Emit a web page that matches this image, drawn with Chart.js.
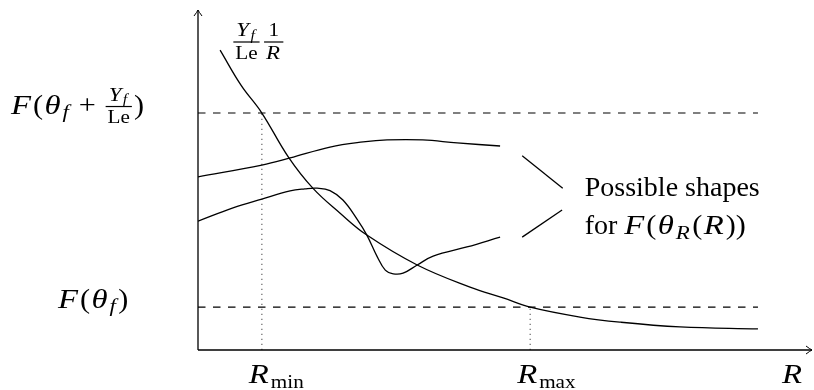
<!DOCTYPE html>
<html lang="en">
<head>
<meta charset="UTF-8">
<title>Possible shapes for F(theta_R(R))</title>
<script src="https://cdn.jsdelivr.net/npm/chart.js"></script>
<style>
  body { margin: 0; background: #ffffff; }
  #wrap { width: 814px; height: 390px; }
</style>
</head>
<body>
<div id="wrap"><canvas id="shapes"></canvas></div>
<script>
// both axes run 0..10 in arbitrary units
const rMin = 1.04, rMax = 5.41, rEnd = 9.12;
const fHigh = 6.97, fLow = 1.26;

// Yf/(Le R) curve
const hypX = [0.36, 0.70, 1.04, 1.47, 1.87, 2.31, 2.75, 3.57, 4.43, 4.97, 5.41, 6.22, 6.87, 7.85, 9.12];
const hypY = [8.82, 7.79, 6.97, 5.68, 4.76, 4.03, 3.38, 2.50, 1.85, 1.53, 1.26, 0.97, 0.82, 0.68, 0.62];

// flat shape
const flatX = [0, 1.04, 1.50, 2.15, 2.69, 3.08, 3.66, 4.22, 4.92];
const flatY = [5.09, 5.44, 5.65, 5.97, 6.12, 6.18, 6.18, 6.09, 6.00];

// shape with a dip
const dipX = [0, 0.57, 1.04, 1.50, 1.74, 1.94, 2.15, 2.36, 2.59, 2.75, 2.92, 3.05, 3.18, 3.34, 3.57, 3.83, 4.38, 4.92];
const dipY = [3.79, 4.18, 4.44, 4.68, 4.74, 4.76, 4.69, 4.41, 3.85, 3.38, 2.74, 2.35, 2.24, 2.26, 2.50, 2.76, 3.03, 3.32];

// little strokes pointing at the note
const pointerAX = [5.28, 5.94], pointerAY = [5.71, 4.76];
const pointerBX = [5.28, 5.93], pointerBY = [3.32, 4.12];

// text pieces: I = italic, U = upright, S = subscript, Fr = fraction, T = plain text
const I = t => ({ t, it: true, m: true });
const U = t => ({ t, m: true });
const S = (t, it) => ({ t, it, sub: true, m: true });
const Fr = (n, d) => ({ n, d });
const T = t => ({ t });

const fTickValues = [fHigh, fLow];
const fTickLabels = [
  [I('F'), U('('), I('θ'), S('f', true), U(' + '), Fr([I('Y'), S('f', true)], [U('Le')]), U(')')],
  [I('F'), U('('), I('θ'), S('f', true), U(')')]
];
const rTickValues = [rMin, rMax, 10];
const rTickLabels = [[I('R'), S('min')], [I('R'), S('max')], [I('R')]];
const curveLabel = [Fr([I('Y'), S('f', true)], [U('Le')]), Fr([U('1')], [I('R')])];
const noteLines = [
  [T('Possible shapes')],
  [T('for '), I('F'), U('('), I('θ'), S('R', true), U('('), I('R'), U('))')]
];

const pts = (xs, ys) => xs.map((x, i) => ({ x, y: ys[i] }));

const FONT = '"Liberation Serif", "DejaVu Serif", serif';
const SIZE = 28;

function fontOf(p, size) {
  return (p.it ? 'italic ' : '') + size + 'px ' + FONT;
}

// math in the original is set wider than Times, so stretch it a bit
function stretchOf(p) {
  if (!p.m) return 1;
  return p.it ? 1.17 : 1.08;
}

function advance(ctx, p, size) {
  let w = ctx.measureText(p.t).width * stretchOf(p);
  if (p.it) w += size * (p.sub ? 0.12 : 0.07);
  if (/[()]/.test(p.t)) w += size * 0.05 * p.t.replace(/[^()]/g, '').length;
  return w;
}

function richWidth(ctx, parts, size) {
  let w = 0;
  parts.forEach(p => {
    if (p.n) {
      w += Math.max(richWidth(ctx, p.n, size * 0.7), richWidth(ctx, p.d, size * 0.7)) + size * 0.3;
      return;
    }
    const s = p.sub ? size * 0.7 : size;
    ctx.font = fontOf(p, s);
    w += advance(ctx, p, s);
  });
  return w;
}

function drawRich(ctx, parts, x, base, size) {
  parts.forEach(p => {
    if (p.n) {
      const fs = size * 0.7;
      const wn = richWidth(ctx, p.n, fs), wd = richWidth(ctx, p.d, fs);
      const w = Math.max(wn, wd) + size * 0.3;
      const axis = base - size * 0.25;
      ctx.fillRect(x + size * 0.08, axis - 0.6, w - size * 0.16, 1.2);
      drawRich(ctx, p.n, x + (w - wn) / 2, axis - size * 0.2, fs);
      drawRich(ctx, p.d, x + (w - wd) / 2, axis + size * 0.6, fs);
      x += w;
      return;
    }
    const s = p.sub ? size * 0.7 : size;
    ctx.font = fontOf(p, s);
    ctx.save();
    ctx.translate(x, p.sub ? base + size * 0.17 : base);
    ctx.scale(stretchOf(p), 1);
    ctx.fillText(p.t, 0, 0);
    ctx.restore();
    x += advance(ctx, p, s);
  });
  return x;
}

function arrowHead(ctx, x, y, dx, dy) {
  // latex style barbs
  const px = -dy, py = dx;
  ctx.beginPath();
  ctx.moveTo(x - dx * 6 + px * 4, y - dy * 6 + py * 4);
  ctx.quadraticCurveTo(x - dx * 2 + px * 1, y - dy * 2 + py * 1, x, y);
  ctx.quadraticCurveTo(x - dx * 2 - px * 1, y - dy * 2 - py * 1, x - dx * 6 - px * 4, y - dy * 6 - py * 4);
  ctx.stroke();
}

const decorations = {
  id: 'decorations',
  afterDraw(chart) {
    const { ctx, chartArea: { left, right, top, bottom }, scales: { x, y } } = chart;
    ctx.save();
    ctx.strokeStyle = '#000';
    ctx.fillStyle = '#000';
    ctx.lineWidth = 1.3;

    // axes with arrows
    ctx.beginPath();
    ctx.moveTo(left, bottom);
    ctx.lineTo(left, top);
    ctx.moveTo(left, bottom);
    ctx.lineTo(right, bottom);
    ctx.stroke();
    ctx.lineWidth = 1;
    arrowHead(ctx, left, top, 0, -1);
    arrowHead(ctx, right, bottom, 1, 0);

    ctx.textBaseline = 'alphabetic';
    // F axis labels
    const fLeft = [11, 58];
    fTickLabels.forEach((lab, i) => {
      drawRich(ctx, lab, fLeft[i], y.getPixelForValue(fTickValues[i]) + 0.5, SIZE);
    });

    // R axis labels
    rTickLabels.forEach((lab, i) => {
      const px = x.getPixelForValue(rTickValues[i]);
      const w = richWidth(ctx, lab, SIZE);
      const lx = i === 2 ? px - w - 8 : px - 13;
      drawRich(ctx, lab, lx, bottom + 33, SIZE);
    });

    // curve label near the top of Yf/(Le R)
    drawRich(ctx, curveLabel, x.getPixelForValue(hypX[0]) + 11, top + 39, SIZE);

    // note on the right
    const nx = x.getPixelForValue(pointerAX[1]) + 22;
    drawRich(ctx, noteLines[0], nx, y.getPixelForValue(pointerAY[1]) + 8, SIZE);
    drawRich(ctx, noteLines[1], nx, y.getPixelForValue(pointerBY[1]) + 24, SIZE);
    ctx.restore();
  }
};

const solid = { borderColor: '#000', borderWidth: 1.3, pointRadius: 0, showLine: true, fill: false };
const curve = Object.assign({}, solid, { tension: 0.4 });
const dashed = Object.assign({}, solid, { borderWidth: 1.1, borderDash: [7.5, 7.5] });
const dotted = Object.assign({}, solid, { borderColor: '#666', borderWidth: 1.2, borderDash: [1.2, 3.8] });

new Chart(document.getElementById('shapes'), {
  type: 'scatter',
  data: {
    datasets: [
      Object.assign({ data: pts(hypX, hypY) }, curve),
      Object.assign({ data: pts(flatX, flatY) }, curve),
      Object.assign({ data: pts(dipX, dipY) }, curve),
      Object.assign({ data: pts([0, rEnd], [fHigh, fHigh]) }, dashed),
      Object.assign({ data: pts([0, rEnd], [fLow, fLow]) }, dashed),
      Object.assign({ data: pts([rMin, rMin], [0, fHigh]) }, dotted),
      Object.assign({ data: pts([rMax, rMax], [0, fLow]) }, dotted),
      Object.assign({ data: pts(pointerAX, pointerAY) }, solid),
      Object.assign({ data: pts(pointerBX, pointerBY) }, solid)
    ]
  },
  options: {
    responsive: true,
    maintainAspectRatio: false,
    animation: false,
    layout: { padding: { left: 198, right: 2, top: 10, bottom: 40 } },
    scales: {
      x: { display: false, min: 0, max: 10 },
      y: { display: false, min: 0, max: 10 }
    },
    plugins: {
      legend: { display: false },
      tooltip: { enabled: false }
    }
  },
  plugins: [decorations]
});
</script>
</body>
</html>
